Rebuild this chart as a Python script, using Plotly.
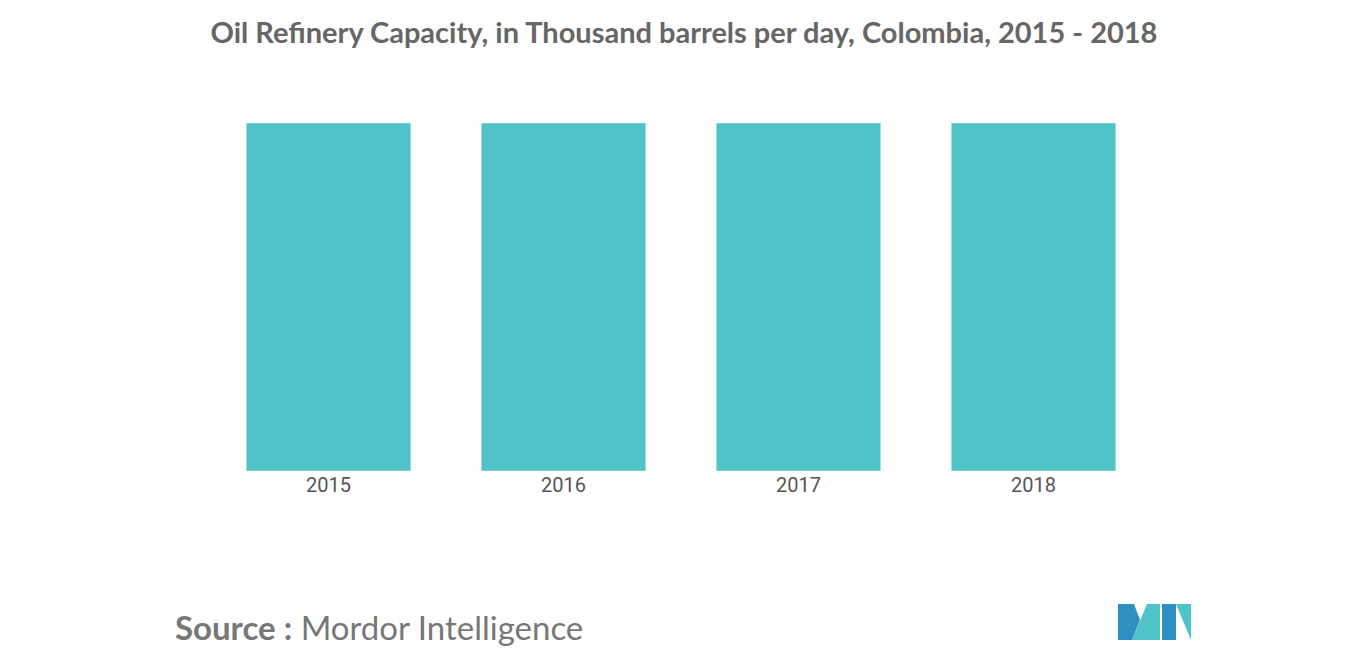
import plotly.graph_objects as go

years = ["2015", "2016", "2017", "2018"]
capacity = [421, 421, 421, 421]

# page is drawn with an 8px body margin, so work in figure coords
OFF = 8
W, H = 1366, 655
L, R, T, B = 211 - OFF, 215 + OFF, 123 - OFF, 184 + OFF
pw, ph = W - L - R, H - T - B


def px(x, y):
    x, y = x - OFF, y - OFF
    return (x - L) / pw, (H - B - y) / ph


def poly(pts, color):
    pp = [px(x, y) for x, y in pts]
    path = "M " + " L ".join(f"{a},{b}" for a, b in pp) + " Z"
    return dict(type="path", xref="paper", yref="paper", path=path,
                fillcolor=color, line=dict(width=0))


fig = go.Figure(go.Bar(x=years, y=capacity, marker_color="#50C3C9", width=0.7))

fig.update_layout(
    width=W, height=H,
    margin=dict(l=L, r=R, t=T, b=B),
    plot_bgcolor="white", paper_bgcolor="white",
    showlegend=False,
    title=dict(text="<b>Oil Refinery Capacity, in Thousand barrels per day, Colombia, 2015 - 2018</b>",
               x=px(684, 0)[0], xref="paper", xanchor="center",
               y=1 - (33 - OFF) / H, yref="container", yanchor="middle",
               font=dict(family="Lato, Open Sans, sans-serif", size=29, color="#666666")),
    xaxis=dict(showgrid=False, showline=False, ticks="",
               tickfont=dict(family="Roboto, sans-serif", size=20, color="#555555")),
    yaxis=dict(visible=False, range=[0, max(capacity)]),
    shapes=[
        poly([(1118, 640), (1118, 604), (1134, 604), (1140, 620), (1132, 640)], "#2E8FC0"),
        poly([(1132, 640), (1147, 604), (1160, 604), (1160, 640)], "#50C3C9"),
        poly([(1162, 640), (1162, 604), (1176, 604), (1176, 640)], "#2E8FC0"),
        poly([(1176, 604), (1191, 604), (1191, 640)], "#50C3C9"),
    ],
    annotations=[
        dict(text="<b>Source :</b> Mordor Intelligence", xref="paper", yref="paper",
             x=px(173, 0)[0], y=px(0, 627)[1], xanchor="left", yanchor="middle",
             showarrow=False,
             font=dict(family="Lato, Open Sans, sans-serif", size=33, color="#777777")),
    ],
)

fig.write_html("out.html")
